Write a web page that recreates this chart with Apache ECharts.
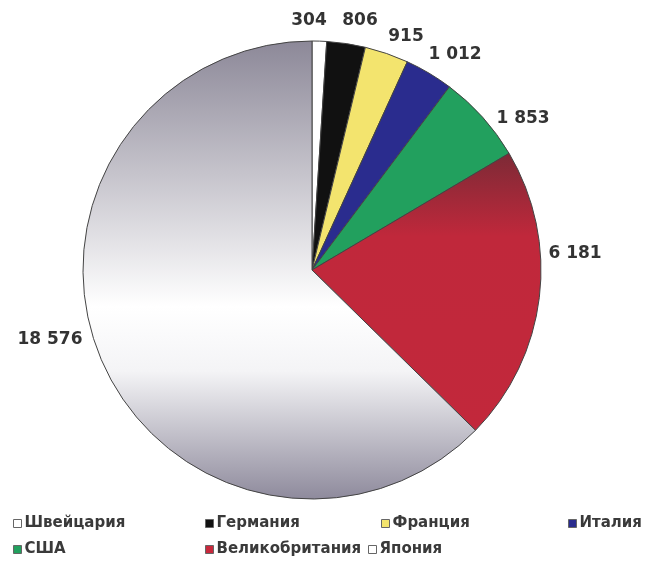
<!DOCTYPE html>
<html>
<head>
<meta charset="utf-8">
<script src="https://cdn.jsdelivr.net/npm/echarts@6/dist/echarts.min.js"></script>
<style>
  html, body { margin: 0; padding: 0; background: #fff; }
  #chart { width: 651px; height: 568px; }
</style>
</head>
<body>
<div id="chart"></div>
<script>
// страны и значения
const countries = ['Швейцария', 'Германия', 'Франция', 'Италия', 'США', 'Великобритания', 'Япония']
const values = [304, 806, 915, 1012, 1853, 6181, 18576]

const grayFill = new echarts.graphic.LinearGradient(0, 0, 0, 1, [
  { offset: 0, color: '#8c8898' },
  { offset: 0.58, color: '#ffffff' },
  { offset: 0.72, color: '#f4f4f6' },
  { offset: 1, color: '#8e8a9c' }
])
const redFill = new echarts.graphic.LinearGradient(0, 0, 0, 1, [
  { offset: 0, color: '#7c2a36' },
  { offset: 0.3, color: '#c0283b' },
  { offset: 1, color: '#c2283b' }
])
const colors = ['#ffffff', '#111111', '#f3e46e', '#2a2c8e', '#22a05e', redFill, grayFill]
const legendColors = ['#ffffff', '#111111', '#f3e46e', '#2a2c8e', '#22a05e', '#c8283c', '#ffffff']

const fmt = (v) => String(v).replace(/\B(?=(\d{3})+(?!\d))/g, ' ')

// расположение подписей (как в Excel) и легенды
const labelPos = [
  [309, 21], [360, 21], [406, 37], [455, 55], [523, 119], [575, 254], [50, 340]
]
const legendPos = [
  [13, 516], [205, 516], [381, 516], [568, 516],
  [13, 542], [205, 542], [368, 542]
]

const chart = echarts.init(document.getElementById('chart'))

chart.setOption({
  animation: false,
  backgroundColor: '#ffffff',
  legend: countries.map((name, i) => ({
    data: [{ name, itemStyle: { color: legendColors[i], borderColor: '#666', borderWidth: 1 } }],
    left: legendPos[i][0],
    top: legendPos[i][1],
    icon: 'rect',
    itemWidth: 8,
    itemHeight: 8,
    itemGap: 2,
    padding: 0,
    selectedMode: false,
    textStyle: {
      fontFamily: 'DejaVu Sans',
      fontWeight: 'bold',
      fontSize: 15,
      color: '#3a3a3a',
      padding: [0, 0, 0, -2]
    }
  })),
  series: [
    {
      type: 'pie',
      center: [312, 270],
      radius: 229,
      startAngle: 90,
      clockwise: true,
      avoidLabelOverlap: false,
      itemStyle: {
        borderColor: '#444',
        borderWidth: 1
      },
      label: {
        show: true,
        position: 'outside',
        formatter: (p) => fmt(p.value),
        fontFamily: 'DejaVu Sans',
        fontWeight: 'bold',
        fontSize: 17,
        color: '#333'
      },
      labelLine: {
        show: false,
        length: 10,
        length2: 0
      },
      labelLayout: (p) => ({
        x: labelPos[p.dataIndex][0],
        y: labelPos[p.dataIndex][1],
        align: 'center',
        verticalAlign: 'middle',
        hideOverlap: false
      }),
      emphasis: { disabled: true },
      data: countries.map((name, i) => ({
        name,
        value: values[i],
        itemStyle: { color: colors[i] }
      }))
    }
  ]
})
</script>
</body>
</html>
